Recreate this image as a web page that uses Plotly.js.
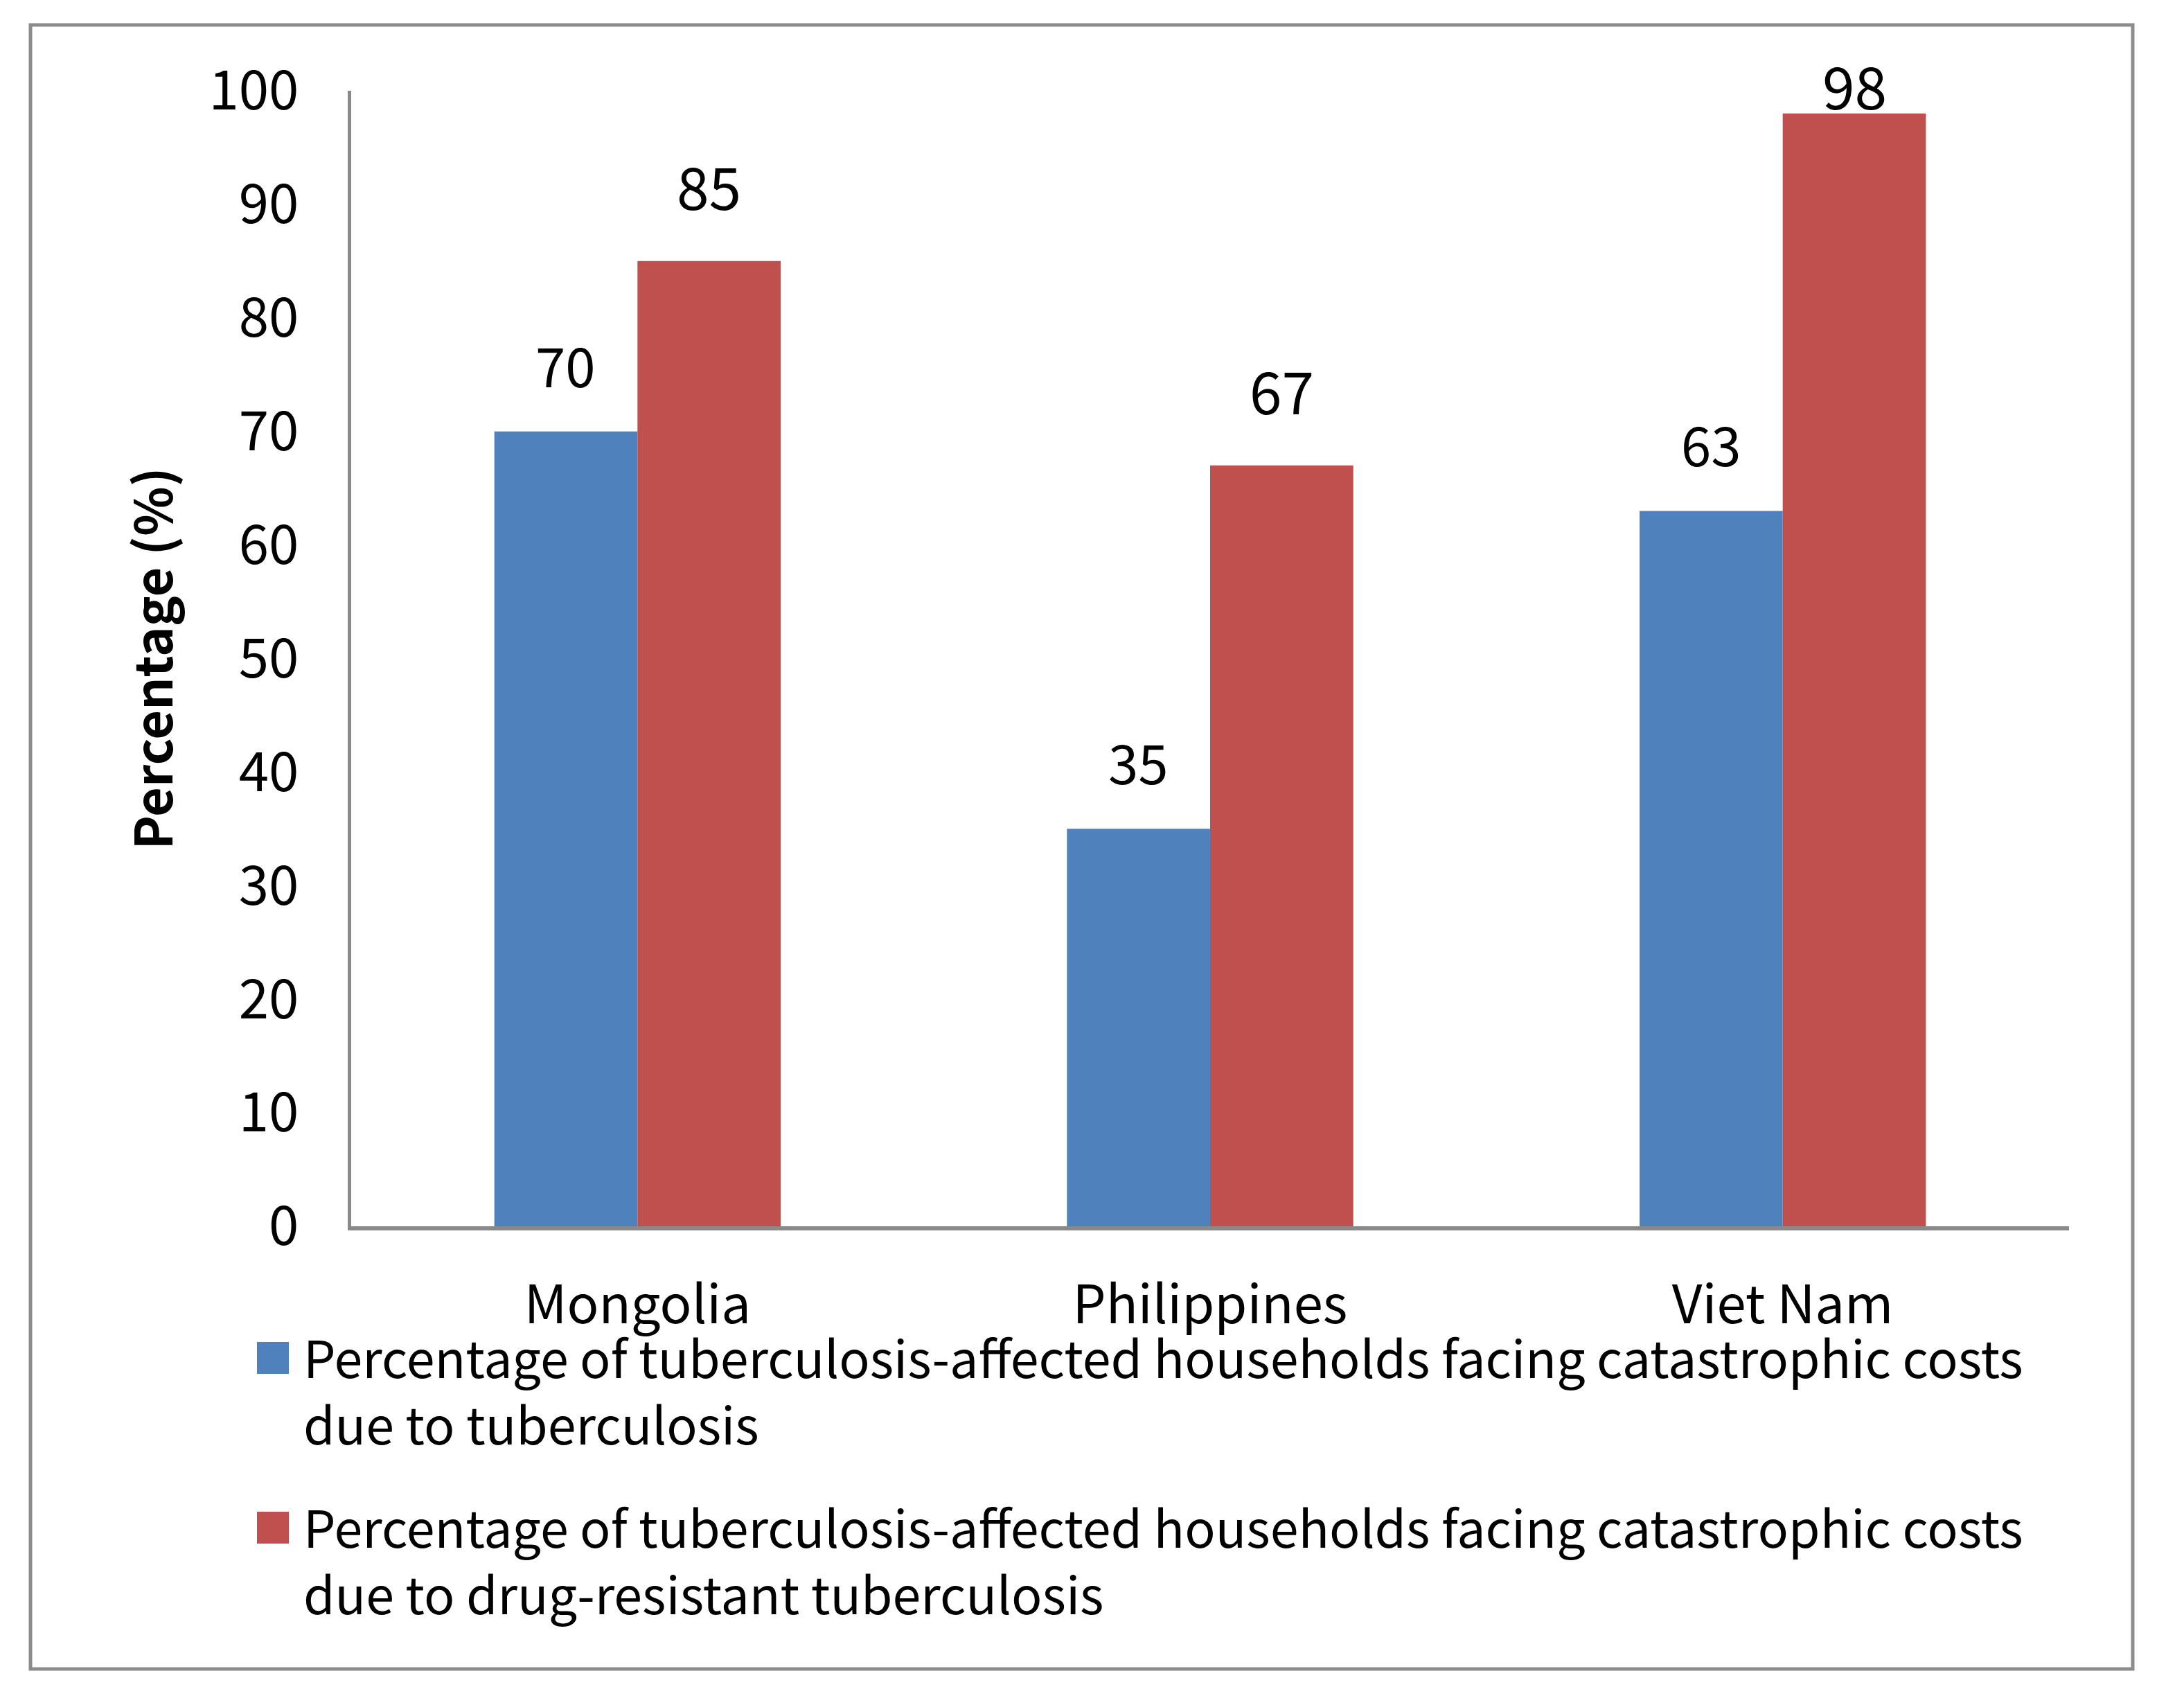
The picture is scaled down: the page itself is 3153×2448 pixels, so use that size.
<!DOCTYPE html>
<html>
<head>
<meta charset="utf-8">
<script src="https://cdn.plot.ly/plotly-3.0.1.min.js"></script>
<style>html,body{margin:0;padding:0;background:#fff;}#chart{width:3153px;height:2448px;}</style>
</head>
<body>
<div id="chart"></div>
<script>
// ---- data ----
var categories = ['Mongolia', 'Philippines', 'Viet Nam'];
var seriesNames = [
  'Percentage of tuberculosis-affected households facing catastrophic costs due to tuberculosis',
  'Percentage of tuberculosis-affected households facing catastrophic costs due to drug-resistant tuberculosis'
];
var tbValues = [70, 35, 63];
var drtbValues = [85, 67, 98];
var yTickValues = [0, 10, 20, 30, 40, 50, 60, 70, 80, 90, 100];
var yTitle = 'Percentage (%)';

// ---- style ----
var colors = ['#4F81BD', '#C0504D'];
var FONT = '"Noto Sans CJK KR", "Noto Sans", sans-serif';
var W = 3153, H = 2448;
var M = {l: 507, r: 166, t: 131, b: 678};
var PW = W - M.l - M.r, PH = H - M.t - M.b;
var BARGAP = 0.5;
function px2x(px) { return (px - M.l) / PW; }
function px2y(py) { return (M.t + PH - py) / PH; }

var allSeries = [tbValues, drtbValues];
var traces = allSeries.map(function (vals, i) {
  return {
    type: 'bar', x: categories, y: vals, name: seriesNames[i],
    marker: {color: colors[i], line: {width: 0}},
    showlegend: false, hoverinfo: 'x+y'
  };
});

var yMax = yTickValues[yTickValues.length - 1];
var pxPerUnit = PH / yMax;

// value labels (offset above bar; kept inside the chart area at the top)
var labelOffsetPx = [98, 110];
var labelSizes = [78, 84];
var labelCapPx = 10; // highest label centre, px above the top of the value axis
var barPx = PW / categories.length * (1 - BARGAP) / allSeries.length;
var annotations = [];
allSeries.forEach(function (vals, i) {
  vals.forEach(function (v, j) {
    var room = (yMax - v) * pxPerUnit + labelCapPx;
    annotations.push({
      x: categories[j], y: v, xref: 'x', yref: 'y',
      xshift: (i - (allSeries.length - 1) / 2) * barPx,
      yshift: Math.min(labelOffsetPx[i], room),
      text: String(v), showarrow: false, xanchor: 'center', yanchor: 'middle',
      font: {family: FONT, size: labelSizes[i], color: '#000'}
    });
  });
});

// y-axis title
annotations.push({
  xref: 'paper', yref: 'paper', x: px2x(216), y: 0.5, textangle: -90,
  text: '<b>' + yTitle + '</b>', showarrow: false, xanchor: 'center', yanchor: 'middle',
  font: {family: FONT, size: 74, color: '#000'}
});

// custom legend
var shapes = [];
var legendTop = [1937, 2182];
seriesNames.forEach(function (nm, i) {
  var t = legendTop[i];
  shapes.push({type: 'rect', xref: 'paper', yref: 'paper',
    x0: px2x(371), x1: px2x(417), y0: px2y(t + 46), y1: px2y(t),
    fillcolor: colors[i], line: {width: 0}});
  annotations.push({
    xref: 'paper', yref: 'paper', x: px2x(436), y: px2y(t + 68),
    text: nm.replace('costs ', 'costs<br>'), showarrow: false,
    xanchor: 'left', yanchor: 'middle', align: 'left',
    font: {family: FONT, size: 73.5, color: '#000'}
  });
});

// outer frame
shapes.push({type: 'rect', xref: 'paper', yref: 'paper',
  x0: px2x(44), x1: px2x(3079), y0: px2y(2409), y1: px2y(36),
  line: {color: '#8C8C8C', width: 5}, fillcolor: 'rgba(0,0,0,0)', layer: 'below'});

var layout = {
  width: W, height: H, margin: M, autosize: false,
  paper_bgcolor: '#fff', plot_bgcolor: '#fff',
  barmode: 'group', bargap: BARGAP, bargroupgap: 0,
  font: {family: FONT, color: '#000'},
  xaxis: {
    type: 'category', showline: true, linecolor: '#898989', linewidth: 6,
    ticks: '', showgrid: false, zeroline: false,
    tickfont: {family: FONT, size: 76, color: '#000'}, ticklabelstandoff: 43
  },
  yaxis: {
    range: [0, yMax], tickvals: yTickValues, showline: true, linecolor: '#898989', linewidth: 5,
    ticks: '', showgrid: false, zeroline: false,
    tickfont: {family: FONT, size: 78, color: '#000'}, ticklabelstandoff: 55
  },
  annotations: annotations, shapes: shapes, showlegend: false
};

Plotly.newPlot('chart', traces, layout, {staticPlot: true, displayModeBar: false});
</script>
</body>
</html>
